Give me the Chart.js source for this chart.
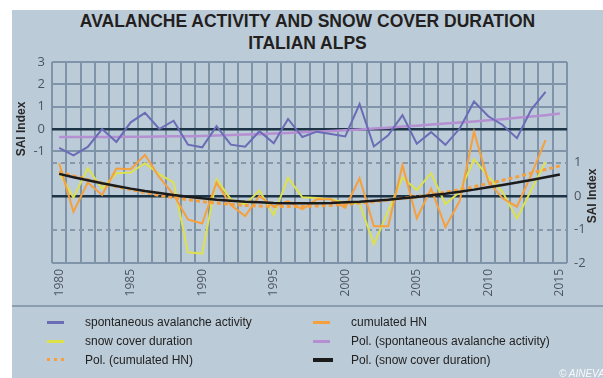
<!DOCTYPE html>
<html>
<head>
<meta charset="utf-8">
<script src="https://cdn.jsdelivr.net/npm/chart.js@4.4.1/dist/chart.umd.min.js"></script>
<style>
  html, body { margin: 0; padding: 0; background: #ffffff; }
  body { width: 603px; height: 378px; position: relative; overflow: hidden;
         font-family: "Liberation Sans", Arial, sans-serif; }
  #panel { position: absolute; left: 12px; top: 10px; width: 591px; height: 368px;
           background: #bccbd8; overflow: hidden; }
  #title { position: absolute; left: 0; top: 0; width: 591px; text-align: center;
           font-weight: bold; font-size: 17.5px; line-height: 22px; color: #231f20; }
  #plot { position: absolute; left: 0; top: 0; }
  #sep { position: absolute; left: 0; top: 295px; width: 591px; height: 2px; background: #8b9eb0; }
  #legend { position: absolute; left: 0; top: 300px; width: 591px; height: 68px; }
  .item { position: absolute; height: 16px; font-size: 12px; color: #222; white-space: nowrap; }
  .item .sw { position: absolute; top: 7px; width: 17px; }
  .item .tx { position: absolute; top: 0; line-height: 16px; }
  #credit { position: absolute; left: 547px; top: 358px; font-size: 10px; font-style: italic;
            color: rgba(255,255,255,0.9); white-space: nowrap; }
</style>
</head>
<body>
<div id="panel">
  <div id="title">AVALANCHE ACTIVITY AND SNOW COVER DURATION<br>ITALIAN ALPS</div>
  <canvas id="plot" width="591" height="296"></canvas>
  <div id="sep"></div>
  <div id="legend"></div>
  <div id="credit">© AINEVA</div>
</div>
<script>
// Winter seasons on the x axis
const years = [1980, 1981, 1982, 1983, 1984, 1985, 1986, 1987, 1988, 1989,
               1990, 1991, 1992, 1993, 1994, 1995, 1996, 1997, 1998, 1999,
               2000, 2001, 2002, 2003, 2004, 2005, 2006, 2007, 2008, 2009,
               2010, 2011, 2012, 2013, 2014, 2015];

// Spontaneous avalanche activity index (left axis), 1980-2014
const spontaneousActivity = [-0.85, -1.18, -0.8, 0.0, -0.58, 0.3, 0.72, 0.0, 0.37, -0.7,
                             -0.82, 0.13, -0.7, -0.79, -0.1, -0.64, 0.45, -0.36, -0.12, -0.22,
                             -0.33, 1.12, -0.78, -0.28, 0.62, -0.66, -0.14, -0.71, 0.02, 1.23,
                             0.57, 0.18, -0.41, 0.87, 1.66];

// Cumulated new snow index (right axis), 1980-2014
const cumulatedHN = [0.98, -0.47, 0.4, 0.03, 0.82, 0.8, 1.23, 0.56, 0.04, -0.7,
                     -0.82, 0.4, -0.27, -0.6, 0.0, -0.32, -0.15, -0.4, -0.1, -0.1,
                     -0.35, 0.53, -0.9, -0.9, 0.92, -0.67, 0.22, -0.93, -0.15, 1.92,
                     0.43, -0.07, -0.32, 0.63, 1.67];

// Snow cover duration index (right axis), 1980-2014
const snowCoverDuration = [0.7, -0.05, 0.83, 0.22, 0.68, 0.7, 0.98, 0.65, 0.4, -1.68,
                           -1.72, 0.5, -0.1, -0.25, 0.16, -0.56, 0.54, -0.04, -0.06, -0.1,
                           -0.2, -0.22, -1.44, -0.45, 0.55, 0.18, 0.68, -0.24, 0.12, 1.1,
                           0.58, 0.12, -0.67, 0.18, 1.02];

// Polynomial trend curves, 1980-2015
const polSpontaneous = [-0.36, -0.36, -0.36, -0.36, -0.36, -0.35, -0.35, -0.34, -0.33, -0.32,
                        -0.31, -0.29, -0.27, -0.25, -0.23, -0.2, -0.18, -0.15, -0.12, -0.09,
                        -0.06, -0.02, 0.02, 0.06, 0.11, 0.15, 0.2, 0.25, 0.29, 0.34,
                        0.39, 0.44, 0.5, 0.56, 0.62, 0.69];
const polCumulatedHN = [0.72, 0.6, 0.49, 0.38, 0.28, 0.19, 0.1, 0.02, -0.05, -0.11,
                        -0.17, -0.21, -0.25, -0.28, -0.3, -0.31, -0.31, -0.31, -0.3, -0.28,
                        -0.25, -0.21, -0.17, -0.12, -0.07, -0.02, 0.04, 0.11, 0.19, 0.28,
                        0.37, 0.47, 0.57, 0.68, 0.79, 0.9];
const polSnowCover = [0.66, 0.56, 0.47, 0.38, 0.3, 0.22, 0.15, 0.09, 0.03, -0.02,
                      -0.07, -0.11, -0.14, -0.17, -0.19, -0.21, -0.22, -0.22, -0.22, -0.21,
                      -0.19, -0.17, -0.14, -0.11, -0.07, -0.03, 0.02, 0.07, 0.13, 0.19,
                      0.26, 0.33, 0.4, 0.48, 0.56, 0.64];

// Labelled ticks of the two SAI axes
const leftTicks = [-1, 0, 1, 2, 3];
const rightTicks = [-2, -1, 0, 1];

const GRID = '#7f94a8';
const DASHED = '#8698aa';
const ZERO = '#1d3446';
const TICK_COLOR = '#4c5660';

// Vertical "SAI Index" captions, each centred on its axis' zero line
const axisCaptions = {
  id: 'axisCaptions',
  afterDraw(chart) {
    const { ctx, scales } = chart;
    const put = (x, y) => {
      ctx.save();
      ctx.translate(x, y);
      ctx.rotate(-Math.PI / 2);
      ctx.fillText('SAI Index', 0, 0);
      ctx.restore();
    };
    ctx.save();
    ctx.font = 'bold 12px "Liberation Sans", Arial, sans-serif';
    ctx.fillStyle = '#2a2a2a';
    ctx.textAlign = 'center';
    ctx.textBaseline = 'middle';
    put(10, scales.yL.getPixelForValue(0));
    put(581, scales.yR.getPixelForValue(0));
    ctx.restore();
  }
};

const chart = new Chart(document.getElementById('plot'), {
  type: 'line',
  data: {
    labels: years,
    datasets: [
      { label: 'spontaneous avalanche activity', data: spontaneousActivity, yAxisID: 'yL',
        borderColor: '#6a6cb6', borderWidth: 2, order: 1 },
      { label: 'cumulated HN', data: cumulatedHN, yAxisID: 'yR',
        borderColor: '#f5a03c', borderWidth: 2, order: 3 },
      { label: 'snow cover duration', data: snowCoverDuration, yAxisID: 'yR',
        borderColor: '#dde24c', borderWidth: 2, order: 4 },
      { label: 'Pol. (spontaneous avalanche activity)', data: polSpontaneous, yAxisID: 'yL',
        borderColor: '#b48fd2', borderWidth: 2.5, order: 2 },
      { label: 'Pol. (cumulated HN)', data: polCumulatedHN, yAxisID: 'yR',
        borderColor: '#f5a03c', borderWidth: 3, borderDash: [4, 3], order: 1 },
      { label: 'Pol. (snow cover duration)', data: polSnowCover, yAxisID: 'yR',
        borderColor: '#1b1b1b', borderWidth: 2.5, order: 0 }
    ]
  },
  options: {
    responsive: false,
    animation: false,
    layout: { padding: { top: 52, left: 0, right: 0, bottom: 0 } },
    elements: { point: { radius: 0 }, line: { tension: 0, fill: false } },
    plugins: { legend: { display: false }, tooltip: { enabled: false }, title: { display: false } },
    scales: {
      x: {
        type: 'category',
        offset: true,
        grid: { offset: true, color: GRID, lineWidth: 2, drawTicks: false },
        border: { display: false },
        ticks: {
          autoSkip: false, maxRotation: 90, minRotation: 90, padding: 6,
          color: TICK_COLOR, font: { family: '"Open Sans", sans-serif', size: 12 },
          callback: (v, i) => (years[i] % 5 === 0 ? String(years[i]) : '')
        },
        afterFit: s => { s.height = 43; }
      },
      yL: {
        position: 'left', min: -6, max: 3,
        afterBuildTicks: s => { s.ticks = leftTicks.map(v => ({ value: v })); },
        grid: {
          drawTicks: false,
          color: c => (c.tick && c.tick.value === 0 ? ZERO : GRID),
          lineWidth: c => (c.tick && c.tick.value === 0 ? 2.5 : 2)
        },
        border: { display: false },
        ticks: { padding: 7, color: TICK_COLOR, font: { family: '"Open Sans", sans-serif', size: 13 } },
        afterFit: s => { s.width = 40; }
      },
      yR: {
        position: 'right', min: -2, max: 4,
        afterBuildTicks: s => { s.ticks = rightTicks.map(v => ({ value: v })); },
        grid: {
          drawTicks: false,
          color: c => (c.tick && c.tick.value === 0 ? ZERO : (c.tick && c.tick.value === -2 ? GRID : DASHED)),
          lineWidth: c => (c.tick && c.tick.value === 0 ? 2.5 : 2)
        },
        border: { display: false, dash: c => (c.tick && Math.abs(c.tick.value) === 1 ? [5, 4] : []) },
        ticks: { padding: 7, color: TICK_COLOR, font: { family: '"Open Sans", sans-serif', size: 13 } },
        afterFit: s => { s.width = 36; }
      }
    }
  },
  plugins: [axisCaptions]
});

// Two-column legend built from the chart's datasets
const legendLayout = [
  ['spontaneous avalanche activity', 0, 0], ['cumulated HN', 1, 0],
  ['snow cover duration', 0, 1], ['Pol. (spontaneous avalanche activity)', 1, 1],
  ['Pol. (cumulated HN)', 0, 2], ['Pol. (snow cover duration)', 1, 2]
];
const legendBox = document.getElementById('legend');
legendLayout.forEach(([label, col, row]) => {
  const ds = chart.data.datasets.find(d => d.label === label);
  const item = document.createElement('div');
  item.className = 'item';
  item.style.left = (col === 0 ? 35 : 301) + 'px';
  item.style.top = (4 + row * 19) + 'px';
  const sw = document.createElement('div');
  sw.className = 'sw';
  sw.style.left = '0px';
  if (ds.borderDash) {
    sw.style.height = '0px';
    sw.style.borderTop = '3px dotted ' + ds.borderColor;
    sw.style.top = '6px';
  } else {
    const h = ds.borderColor === '#1b1b1b' ? 4 : 3;
    sw.style.height = h + 'px';
    sw.style.top = (8 - h / 2) + 'px';
    sw.style.background = ds.borderColor;
  }
  if (ds.borderColor === '#1b1b1b') sw.style.width = '20px';
  const tx = document.createElement('div');
  tx.className = 'tx';
  tx.style.left = '38px';
  tx.textContent = label;
  item.appendChild(sw);
  item.appendChild(tx);
  legendBox.appendChild(item);
});
</script>
</body>
</html>
